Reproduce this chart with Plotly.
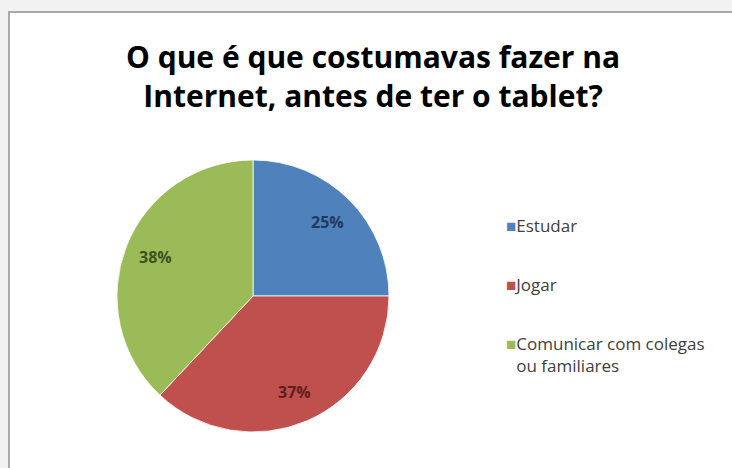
import math
import plotly.graph_objects as go

# Survey answers: what the respondents used to do online before having a tablet
categories = ["Estudar", "Jogar", "Comunicar com colegas ou familiares"]
legend_lines = [["Estudar"], ["Jogar"], ["Comunicar com colegas", "ou familiares"]]
shares = [25, 37, 38]
slice_colors = ["#4F81BD", "#C0504D", "#9BBB59"]
label_colors = ["#1F3A60", "#5E1F1D", "#3F5220"]

title_text = "O que é que costumavas fazer na<br>Internet, antes de ter o tablet?"

W, H = 732, 468
# pie placement in pixels
CX, CY, R = 253, 296, 136

fig = go.Figure()

fig.add_trace(go.Pie(
    labels=categories,
    values=shares,
    sort=False,
    direction="clockwise",
    rotation=0,
    marker=dict(colors=slice_colors, line=dict(color="#ffffff", width=0.8)),
    textinfo="none",
    showlegend=False,
    hoverinfo="label+percent",
    domain=dict(x=[(CX - R) / W, (CX + R) / W], y=[(H - CY - R) / H, (H - CY + R) / H]),
))

# Percentage labels placed at 77% of the radius, on each slice's mid-angle
total = sum(shares)
start = 0.0
annotations = []
for v, col in zip(shares, label_colors):
    mid = (start + v / 2) / total * 2 * math.pi
    start += v
    px = CX + 0.77 * R * math.sin(mid)
    py = CY - 0.77 * R * math.cos(mid)
    annotations.append(dict(
        x=px / W, y=1 - py / H, xref="paper", yref="paper",
        text=f"{round(v / total * 100)}%", showarrow=False,
        xanchor="center", yanchor="middle",
        font=dict(family="Open Sans", size=16, color=col, weight="bold"),
    ))

# Chart title
annotations.append(dict(
    x=373 / W, y=1 - 34 / H, xref="paper", yref="paper",
    xanchor="center", yanchor="top", showarrow=False,
    text=title_text, align="center",
    font=dict(family="Open Sans", size=30, color="#000000", weight="bold"),
))

# Legend entries: a coloured square glyph before the text, continuation lines
# indented by an invisible square so they line up with the first line
SQ = "<span style='color:{c}'>■</span>"
for lines, col in zip(legend_lines, slice_colors):
    first = SQ.format(c=col) + lines[0]
    rest = [SQ.format(c="rgba(0,0,0,0)") + ln for ln in lines[1:]]
    name = "<br>".join([first] + rest)
    fig.add_trace(go.Scatter(
        x=[None], y=[None], mode="markers", legendgroup=lines[0], name=name,
        marker=dict(symbol="square", size=0.1, color="rgba(0,0,0,0)"),
    ))

fig.update_layout(
    width=W, height=H,
    margin=dict(l=0, r=0, t=0, b=0),
    paper_bgcolor="#f2f2f2",
    plot_bgcolor="rgba(0,0,0,0)",
    xaxis=dict(visible=False), yaxis=dict(visible=False),
    annotations=annotations,
    legend=dict(
        x=466 / W, y=1 - 208 / H, xanchor="left", yanchor="top",
        font=dict(family="Open Sans", size=17, color="#404040"),
        tracegroupgap=34,
        bgcolor="rgba(0,0,0,0)",
        itemwidth=30,
    ),
    shapes=[
        # chart frame
        dict(type="rect", xref="paper", yref="paper",
             x0=9 / W, x1=1.05, y0=-0.05, y1=1 - 12 / H,
             fillcolor="#ffffff", line=dict(color="#a9a9a9", width=2), layer="below"),
    ],
)

fig.write_html("out.html")
